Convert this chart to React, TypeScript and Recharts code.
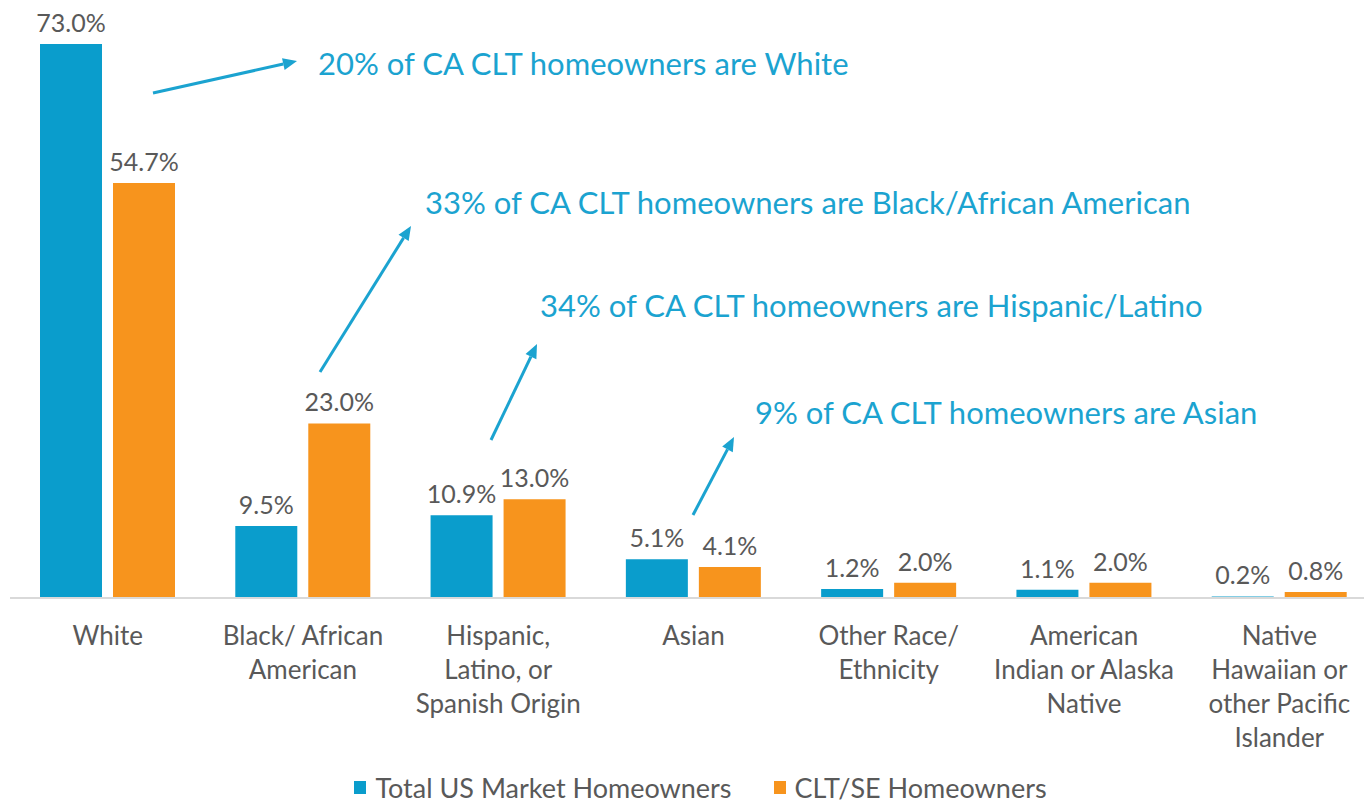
import React from 'react'
import { BarChart, Bar, XAxis, YAxis, LabelList, Legend } from 'recharts'

const categories = [
  'White',
  'Black/ African American',
  'Hispanic, Latino, or Spanish Origin',
  'Asian',
  'Other Race/ Ethnicity',
  'American Indian or Alaska Native',
  'Native Hawaiian or other Pacific Islander',
]

const tickLines: string[][] = [
  ['White'],
  ['Black/ African', 'American'],
  ['Hispanic,', 'Latino, or', 'Spanish Origin'],
  ['Asian'],
  ['Other Race/', 'Ethnicity'],
  ['American', 'Indian or Alaska', 'Native'],
  ['Native', 'Hawaiian or', 'other Pacific', 'Islander'],
]

const totalUS = [73.0, 9.5, 10.9, 5.1, 1.2, 1.1, 0.2]
const cltSE = [54.7, 23.0, 13.0, 4.1, 2.0, 2.0, 0.8]

const notes = [
  { text: '20% of CA CLT homeowners are White', x: 318, y: 63, from: [153, 93], to: [297, 61] },
  { text: '33% of CA CLT homeowners are Black/African American', x: 425, y: 202, from: [320, 372], to: [411, 226] },
  { text: '34% of CA CLT homeowners are Hispanic/Latino', x: 540, y: 305, from: [491, 440], to: [537, 344] },
  { text: '9% of CA CLT homeowners are Asian', x: 755, y: 412, from: [693, 515], to: [734, 437] },
]

const data = categories.map((name, i) => ({
  name,
  total: totalUS[i],
  clt: cltSE[i],
}))

const BLUE = '#0a9dcc'
const ORANGE = '#f7941d'
const GREY = '#595959'
const NOTE = '#1ba3d0'
const FONT = 'Lato, sans-serif'

const CategoryTick = (props: any) => {
  const { x, y, payload } = props
  const lines = tickLines[payload.index] || [payload.value]
  return (
    <g transform={`translate(${x},${y})`}>
      {lines.map((l, i) => (
        <text key={i} x={0} y={29 + i * 34} textAnchor="middle" dominantBaseline="central"
          fill={GREY} fontSize={26} fontFamily={FONT}>{l}</text>
      ))}
    </g>
  )
}

const LegendContent = () => (
  <div style={{ display: 'flex', justifyContent: 'center', gap: 42, paddingTop: 13, paddingLeft: 14,
    fontFamily: FONT, fontSize: 27, color: GREY }}>
    {[['Total US Market Homeowners', BLUE], ['CLT/SE Homeowners', ORANGE]].map(([t, c]) => (
      <div key={t} style={{ display: 'flex', alignItems: 'center', gap: 9 }}>
        <span style={{ width: 12, height: 13, background: c, display: 'inline-block' }} />
        <span>{t}</span>
      </div>
    ))}
  </div>
)

const Arrow = ({ from, to }: any) => {
  const [x1, y1] = from
  const [x2, y2] = to
  const a = Math.atan2(y2 - y1, x2 - x1)
  const len = 14, w = 6
  const bx = x2 - len * Math.cos(a), by = y2 - len * Math.sin(a)
  const px = -Math.sin(a) * w, py = Math.cos(a) * w
  return (
    <g>
      <line x1={x1} y1={y1} x2={bx} y2={by} stroke={NOTE} strokeWidth={3} />
      <polygon points={`${x2},${y2} ${bx + px},${by + py} ${bx - px},${by - py}`} fill={NOTE} />
    </g>
  )
}

export default function App() {
  return (
    <div style={{ position: 'absolute', left: 0, top: 0, width: 1364, height: 803, overflow: 'hidden', background: '#fff' }}>
      <BarChart width={1380} height={803} data={data}
        margin={{ top: 44, right: 3, left: 10, bottom: 0 }}
        barCategoryGap={30} barGap={11}
      >
        <XAxis dataKey="name" interval={0} height={160} tickLine={false}
          axisLine={{ stroke: '#d9d9d9', strokeWidth: 2 }} tick={<CategoryTick />} />
        <YAxis hide domain={[0, 73]} />
        <Legend verticalAlign="bottom" height={45} content={<LegendContent />} />
        <Bar dataKey="total" fill={BLUE} barSize={62} isAnimationActive={false}>
          <LabelList dataKey="total" position="top" offset={12} fill={GREY} fontSize={25} fontFamily={FONT}
            formatter={(v: any) => `${Number(v).toFixed(1)}%`} />
        </Bar>
        <Bar dataKey="clt" fill={ORANGE} barSize={62} isAnimationActive={false}>
          <LabelList dataKey="clt" position="top" offset={12} fill={GREY} fontSize={25} fontFamily={FONT}
            formatter={(v: any) => `${Number(v).toFixed(1)}%`} />
        </Bar>
      </BarChart>
      <svg width={1364} height={803} style={{ position: 'absolute', left: 0, top: 0, pointerEvents: 'none' }}>
        {notes.map((n) => (
          <g key={n.text}>
            <Arrow from={n.from} to={n.to} />
            <text x={n.x} y={n.y} dominantBaseline="central" fill={NOTE} fontSize={31} fontFamily={FONT}>{n.text}</text>
          </g>
        ))}
      </svg>
    </div>
  )
}
